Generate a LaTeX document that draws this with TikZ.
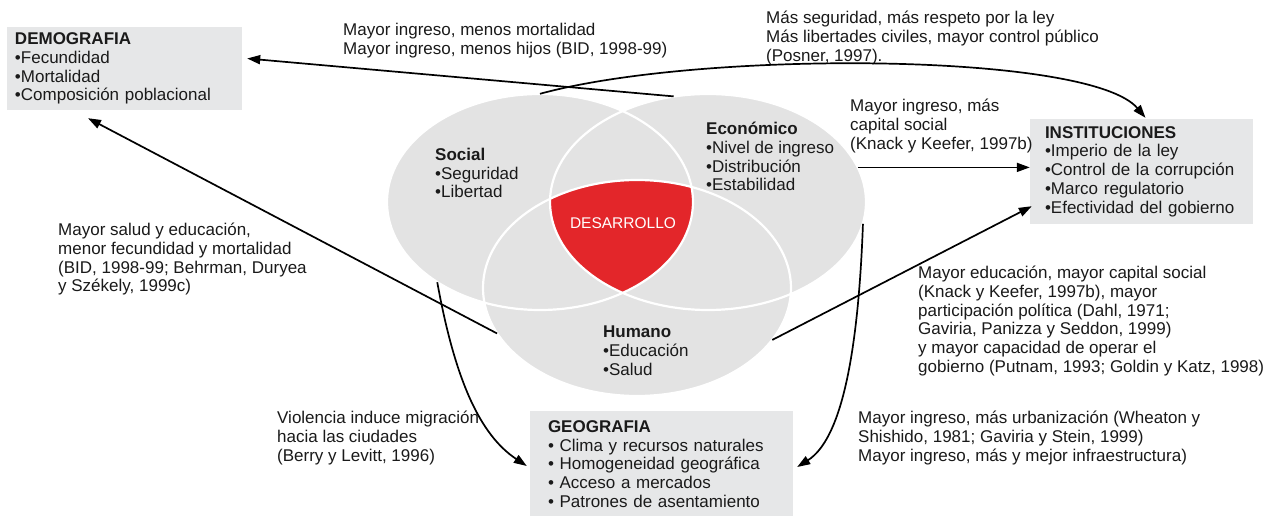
\documentclass[tikz,border=0pt]{standalone}
\usepackage{fontspec}
\setmainfont{Liberation Sans}
\usepackage{tikz}
\usetikzlibrary{positioning,arrows.meta,calc,shapes.geometric}
\definecolor{BIDgray}{HTML}{E6E7E8}
\definecolor{BIDvenn}{HTML}{E3E3E3}
\definecolor{BIDred}{HTML}{E3262A}
\definecolor{BIDink}{HTML}{1A1A1A}
\tikzset{
  factbox/.style={rectangle, fill=BIDgray, align=left, inner sep=0pt, font=\fontsize{17}{18.7}\selectfont, text=BIDink},
  notetxt/.style={anchor=north west, align=left, inner sep=0pt, font=\fontsize{17}{18.7}\selectfont, text=BIDink},
  vennset/.style={ellipse, fill=BIDvenn, inner sep=0pt, minimum height=216pt},
  vennline/.style={draw=white, line width=2.2pt},
  linkarr/.style={-{Triangle[length=13pt,width=9pt]}, line width=1.7pt, draw=black}
}

\begin{document}
\begin{tikzpicture}[x=1pt, y=-1pt]
  \useasboundingbox[fill=white] (0,0) rectangle (1267,516);
  \node[vennset, minimum width=306pt] (soc) at (540,202) {};
  \node[vennset, minimum width=316pt] (eco) at (708,202) {};
  \node[vennset, minimum width=308pt] (hum) at (637,288) {};
  \begin{scope}
    \clip (soc.center) ellipse [x radius=153, y radius=108];
    \clip (eco.center) ellipse [x radius=158, y radius=108];
    \fill[BIDred] (hum.center) ellipse [x radius=154, y radius=108];
  \end{scope}
  \draw[vennline] (soc.center) ellipse [x radius=153, y radius=108];
  \draw[vennline] (eco.center) ellipse [x radius=158, y radius=108];
  \draw[vennline] (hum.center) ellipse [x radius=154, y radius=108];

  \node[notetxt] (soctxt) at (435,148) {\textbf{Social}\\•Seguridad\\•Libertad};
  \node[notetxt] (ecotxt) at (706,122) {\textbf{Económico}\\•Nivel de ingreso\\•Distribución\\•Estabilidad};
  \node[notetxt] (humtxt) at (603,326) {\textbf{Humano}\\•Educación\\•Salud};
  \node[font=\fontsize{15.5}{17}\selectfont, text=white] (desa) at (623,223) {DESARROLLO};

  \node[factbox, minimum width=235pt, minimum height=83pt, text width=219pt] (demo) at (124.5,68.5)
    {\textbf{DEMOGRAFIA}\\•Fecundidad\\•Mortalidad\\•Composición poblacional};
  \node[factbox, minimum width=223pt, minimum height=105pt, text width=193pt] (inst) at (1141.5,171.5)
    {\textbf{INSTITUCIONES}\\•Imperio de la ley\\•Control de la corrupción\\•Marco regulatorio\\•Efectividad del gobierno};
  \node[factbox, minimum width=263pt, minimum height=106pt, text width=227pt] (geo) at (661.5,464)
    {\textbf{GEOGRAFIA}\\• Clima y recursos naturales\\• Homogeneidad geográfica\\• Acceso a mercados\\• Patrones de asentamiento};

  \node[notetxt] (lbdem) at (343,23) {Mayor ingreso, menos mortalidad\\Mayor ingreso, menos hijos (BID, 1998-99)};
  \node[notetxt] (lbpos) at (766,11) {Más seguridad, más respeto por la ley\\Más libertades civiles, mayor control público\\(Posner, 1997).};
  \node[notetxt] (lbkna) at (850,99) {Mayor ingreso, más\\capital social\\(Knack y Keefer, 1997b)};
  \node[notetxt] (lbsal) at (58,223) {Mayor salud y educación,\\menor fecundidad y mortalidad\\(BID, 1998-99; Behrman, Duryea\\y Székely, 1999c)};
  \node[notetxt] (lbedu) at (918,266) {Mayor educación, mayor capital social\\(Knack y Keefer, 1997b), mayor\\participación política (Dahl, 1971;\\Gaviria, Panizza y Seddon, 1999)\\y mayor capacidad de operar el\\gobierno (Putnam, 1993; Goldin y Katz, 1998)};
  \node[notetxt] (lbvio) at (277,411) {Violencia induce migración\\hacia las ciudades\\(Berry y Levitt, 1996)};
  \node[notetxt] (lburb) at (858,411) {Mayor ingreso, más urbanización (Wheaton y\\Shishido, 1981; Gaviria y Stein, 1999)\\Mayor ingreso, más y mejor infraestructura)};

  \draw[linkarr] (eco.108) -- ([xshift=5pt,yshift=10pt]demo.east);
  \draw[linkarr] (soc.north) .. controls (700,50) and (1090,52) .. ([xshift=4pt,yshift=1pt]inst.north);
  \draw[linkarr] (eco.13) -- (eco.13 -| inst.west);
  \draw[linkarr] (hum.-21) -- ([xshift=2pt,yshift=18pt]inst.south west);
  \draw[linkarr] (hum.198) -- ([xshift=-36.5pt,yshift=-8pt]demo.south);
  \draw[linkarr] (soc.218) .. controls (455,380) and (480,435) .. ([xshift=-3pt,yshift=-2pt]geo.west);
  \draw[linkarr] (eco.-8) .. controls (858,360) and (840,440) .. ([xshift=4pt,yshift=-3pt]geo.east);
\end{tikzpicture}
\end{document}
